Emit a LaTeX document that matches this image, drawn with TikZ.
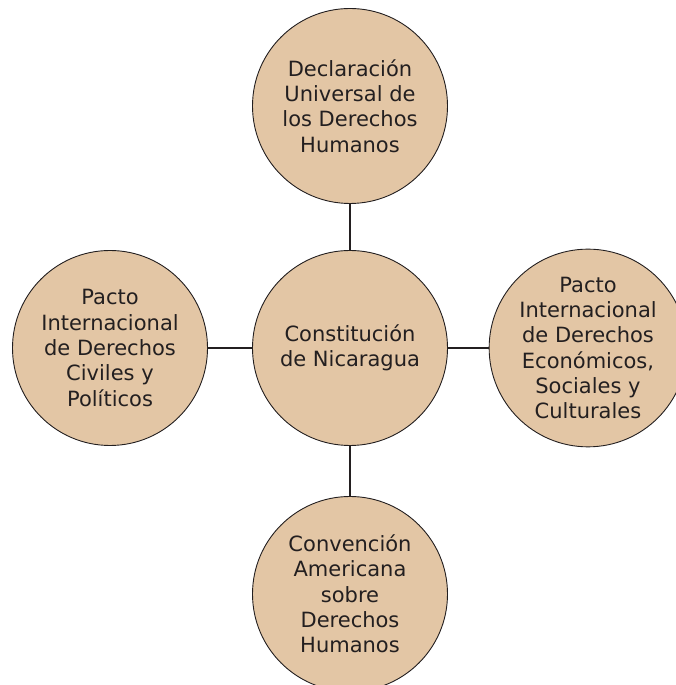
\documentclass[tikz,border=0pt]{standalone}
\usepackage{fontspec}
\setmainfont{DejaVu Sans}
\usetikzlibrary{positioning}
\definecolor{tan}{RGB}{227,198,165}
\definecolor{ink}{RGB}{35,31,32}
\tikzset{
node distance=242pt, % distance between the circle centres
every node/.style={font=\fontsize{21}{25.3}\selectfont, text=ink}, % text of all circles
topic/.style={circle, draw=ink, line width=0.9pt, fill=tan, minimum size=195pt, inner sep=0pt, align=center}, % one circle
link/.style={draw=ink, line width=2.2pt}, % line between two circles
}
\begin{document}
\begin{tikzpicture}

            \useasboundingbox (0,0) rectangle (676pt,685pt);

            \node[topic] (cons) at (350pt,337pt) {Constitución\\de Nicaragua};
            \node[topic, above of=cons] (decl) {Declaración\\Universal de\\los Derechos\\Humanos};
            \node[topic, left of=cons, xshift=2pt] (pidcp) {Pacto\\Internacional\\de Derechos\\Civiles y\\Políticos};
            \node[topic, right of=cons, xshift=-4pt] (pidesc) {Pacto\\Internacional\\de Derechos\\Económicos,\\Sociales y\\Culturales};
            \node[topic, below of=cons, yshift=-4pt] (cadh) {Convención\\Americana\\sobre\\Derechos\\Humanos};

            \draw[link] (decl) -- (cons)
                        (pidcp) -- (cons)
                        (pidesc) -- (cons)
                        (cadh) -- (cons);
        \end{tikzpicture}
\end{document}
